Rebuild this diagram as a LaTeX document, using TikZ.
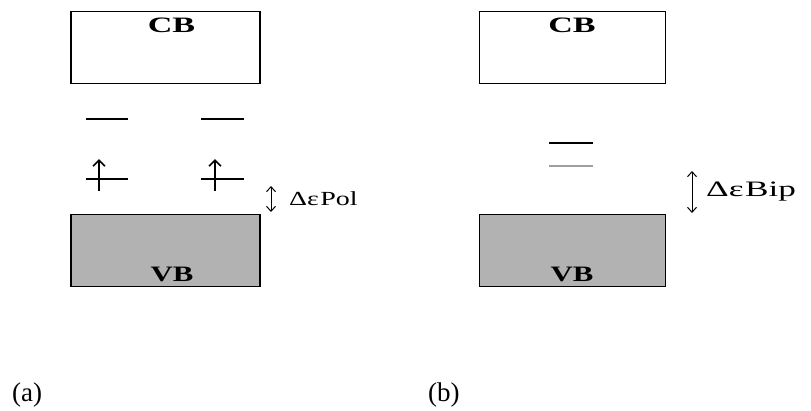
\documentclass[tikz,border=0pt]{standalone}
\usepackage{fontspec}
\usepackage{graphicx}
\setmainfont{Liberation Serif}
\usetikzlibrary{arrows.meta}
\begin{document}
\begin{tikzpicture}[x=1pt, y=-1pt,
    band/.style={draw, rectangle, line width=1.8pt, minimum width=189pt, minimum height=72pt, inner sep=0pt},
    bandtext/.style={font=\fontsize{22}{26}\selectfont\bfseries, inner sep=0pt},
    lbl/.style={font=\fontsize{20}{24}\selectfont, anchor=west, inner sep=0pt},
    panellbl/.style={font=\fontsize{27}{32}\selectfont, anchor=west, inner sep=0pt},
    lvl/.style={line width=1.8pt},
    spin/.style={line width=1.6pt, -{Straight Barb[length=6pt, width=12pt]}},
    gap/.style={line width=1pt, {Straight Barb[length=5pt, width=9pt]}-{Straight Barb[length=5pt, width=9pt]}}]
    \useasboundingbox (0,0) rectangle (811,410);

    % (a) polaron levels
    \node[band] (cbA) at (165.5,47.5) {};
    \node[bandtext] (cbAtxt) at (171.5,25) {\scalebox{1.55}[1]{CB}};
    \node[band, fill=gray!60] (vbA) at (165.5,250.5) {};
    \node[bandtext] (vbAtxt) at (172,274) {\scalebox{1.4}[1]{VB}};

    \coordinate (upA1) at (86,119);  \coordinate (upA1e) at (128,119);
    \coordinate (upA2) at (201,119); \coordinate (upA2e) at (244,119);
    \coordinate (loA1) at (86,179);  \coordinate (loA1e) at (128,179);
    \coordinate (loA2) at (201,179); \coordinate (loA2e) at (244,179);
    \draw[lvl] (upA1) -- (upA1e);
    \draw[lvl] (upA2) -- (upA2e);
    \draw[lvl] (loA1) -- (loA1e);
    \draw[lvl] (loA2) -- (loA2e);

    \coordinate (spA1s) at (99,191);  \coordinate (spA1e) at (99,159);
    \coordinate (spA2s) at (215,191); \coordinate (spA2e) at (215,159);
    \draw[spin] (spA1s) -- (spA1e);
    \draw[spin] (spA2s) -- (spA2e);

    \coordinate (gapAt) at (271,186); \coordinate (gapAb) at (271,212);
    \draw[gap] (gapAt) -- (gapAb);
    \node[lbl] (polA) at (289,199) {\scalebox{1.4}[1]{Δε\kern1ptPol}};

    % (b) bipolaron levels
    \node[band, minimum width=186pt] (cbB) at (572.5,47.5) {};
    \node[bandtext] (cbBtxt) at (572,25) {\scalebox{1.55}[1]{CB}};
    \node[band, minimum width=186pt, fill=gray!60] (vbB) at (572.5,250.5) {};
    \node[bandtext] (vbBtxt) at (572,274) {\scalebox{1.4}[1]{VB}};

    \coordinate (upB) at (549,143); \coordinate (upBe) at (593,143);
    \coordinate (loB) at (549,166); \coordinate (loBe) at (593,166);
    \draw[lvl] (upB) -- (upBe);
    \draw[lvl, gray!75] (loB) -- (loBe);

    \coordinate (gapBt) at (692,171); \coordinate (gapBb) at (692,213);
    \draw[gap] (gapBt) -- (gapBb);
    \node[lbl, font=\fontsize{22}{26}\selectfont] (bipB) at (706,192) {\scalebox{1.6}[1]{Δε\kern1ptBip}};

    % panel labels
    \node[panellbl] (capA) at (12,395) {(a)};
    \node[panellbl] (capB) at (428,395) {(b)};
\end{tikzpicture}
\end{document}
